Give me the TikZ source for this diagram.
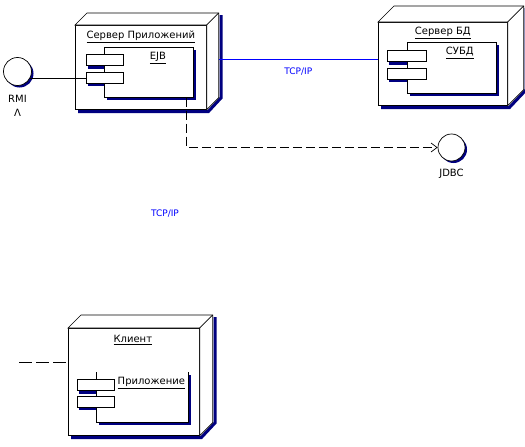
\documentclass[tikz,border=0pt]{standalone}
\usepackage{fontspec}
\setmainfont{DejaVu Sans}
\usetikzlibrary{calc, positioning, shadows, arrows.meta}
\definecolor{navyblue}{RGB}{0,0,128}
\definecolor{tcpblue}{RGB}{0,0,255}

% 3D box of a deployment node: #1 node name, #2 depth
\newcommand{\devbox}[2]{%
  \draw[navyblue, line width=3pt] ($(#1.north east)+(#2+2.5,-#2+2)$) -- ($(#1.south east)+(#2+2.5,-#2)$)
    -- ($(#1.south east)+(1.5,2)$) -- ($(#1.south west)+(3,2)$);
  \draw[fill=white] (#1.north west) -- ++(#2,-#2) -| ($(#1.south east)+(#2,-#2)$) -- (#1.south east) -- (#1.north east) -- cycle;
  \draw (#1.north east) -- ++(#2,-#2);
}

\begin{document}
\begin{tikzpicture}[x=1pt, y=-1pt, line width=0.7pt,
    every node/.style={font=\fontsize{10}{12}\selectfont},
    devface/.style={draw, fill=white, anchor=north west, inner sep=0},
    comp/.style={draw, fill=white, anchor=north west, inner sep=0,
      drop shadow={shadow xshift=3pt, shadow yshift=-3pt, fill=navyblue, opacity=1}},
    port/.style={draw, fill=white, anchor=north west, inner sep=0, minimum width=37pt, minimum height=11pt},
    iface/.style={circle, draw, fill=white, inner sep=0, minimum size=28pt,
      drop shadow={shadow xshift=2pt, shadow yshift=-2pt, fill=navyblue, opacity=1}},
    dep/.style={dash pattern=on 9pt off 4pt},
    tcp/.style={text=tcpblue, font=\fontsize{9}{11}\selectfont}]
  \useasboundingbox[fill=white] (0,0) rectangle (525,447);

  % nodes
  \node[devface, minimum width=131pt, minimum height=84pt] (app) at (75,25) {};
  \devbox{app}{12}
  \node[devface, minimum width=129pt, minimum height=83pt] (db) at (378,22) {};
  \devbox{db}{16}
  \node[devface, minimum width=131pt, minimum height=107pt] (client) at (68,328) {};
  \devbox{client}{13}

  \node (apptitle) at ($(app.north)+(0,12)$) {\underline{Сервер Приложений}};
  \node (dbtitle) at ($(db.north)+(0,11)$) {\underline{Сервер БД}};
  \node (clienttitle) at ($(client.north)+(-1,12)$) {\underline{Клиент}};

  % components
  \node[comp, minimum width=89pt, minimum height=50pt] (ejb) at (104,47) {};
  \node[port] (ejb1) at (86,54) {};
  \node[port, below=6pt of ejb1.south west, anchor=north west] (ejb2) {};
  \node (ejblbl) at ($(ejb.north)+(9,11)$) {\underline{EJB}};

  \node[comp, minimum width=89pt, minimum height=51pt] (subd) at (407,42) {};
  \node[port, minimum width=39pt] (subd1) at (387,50) {};
  \node[port, minimum width=39pt, below=6pt of subd1.south west, anchor=north west] (subd2) {};
  \node (subdlbl) at ($(subd.north)+(8,11)$) {\underline{СУБД}};

  \node[comp, draw=none, minimum width=92pt, minimum height=50pt] (prog) at (96,372) {};
  \draw (prog.north west) |- (prog.south east) -- (prog.north east);
  \node[port] (prog1) at (77,379) {};
  \node[port, below=5pt of prog1.south west, anchor=north west] (prog2) {};
  \node (proglbl) at ($(prog.north)+(9,11)$) {\underline{Приложение}};

  \foreach \c in {ejb, subd, prog} {
    \foreach \p in {1,2} {
      \fill[navyblue] ($(\c\p.south west)+(2,0.4)$) rectangle ($(\c\p.south west -| \c.west)+(0,2.8)$);
    }
  }

  % interfaces
  \node[iface] (rmi) at (17.5,71.5) {};
  \node[below=6pt of rmi] (rmilbl) {RMI};
  \node[below=-1pt of rmilbl] (rmimark) {Λ};
  \node[iface, minimum size=27pt] (jdbc) at (451.5,147.5) {};
  \node[below=4pt of jdbc] (jdbclbl) {JDBC};

  % connectors
  \draw (rmi.-30) -- (rmi.-30 -| ejb2.west);
  \draw[draw=tcpblue] ($(app.east)+(12,-8)$) -- ($(db.west)+(0,-4.5)$) node[tcp, midway, below=5pt] (tcp1) {TCP/IP};
  \draw[dep, -{Straight Barb[length=6pt, width=9pt]}] ($(ejb.south east)+(-7,0)$) |- (jdbc.west);
  \node[tcp] (tcp2) at (165,214) {TCP/IP};
  \coordinate (cleft) at (19,362);
  \draw[dash pattern=on 13pt off 4pt] (cleft) -- (cleft -| client.west);
\end{tikzpicture}
\end{document}
